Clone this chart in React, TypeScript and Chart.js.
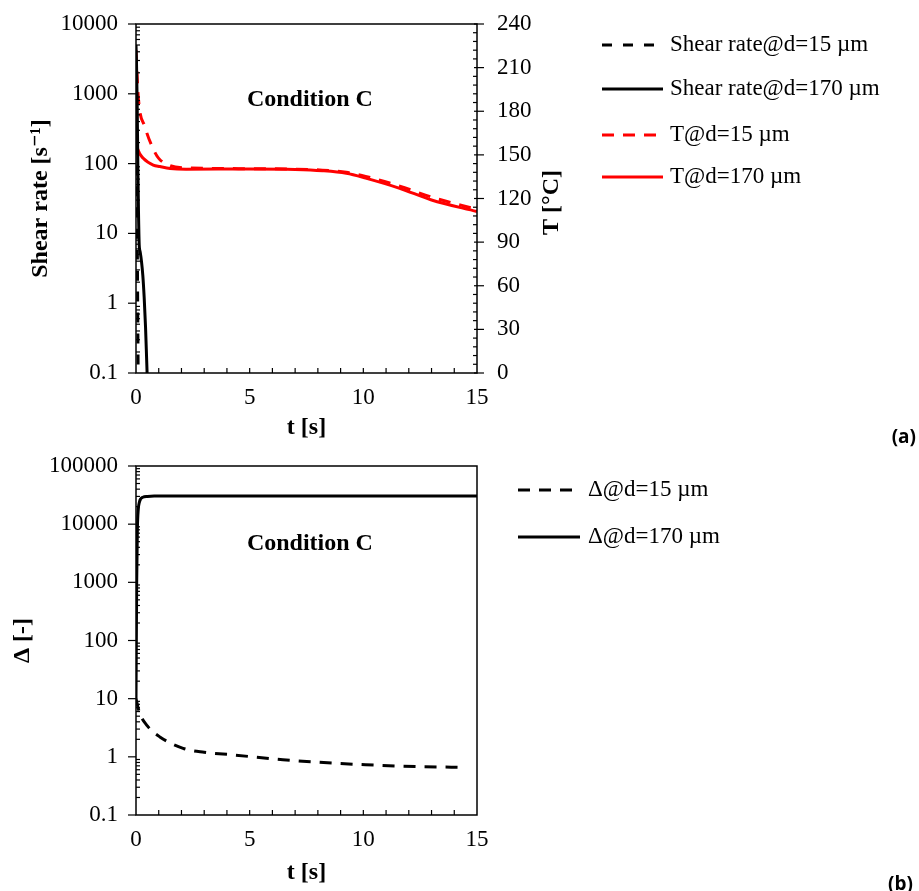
import React, { useEffect, useRef } from "react";
import { Chart, registerables } from "chart.js";
Chart.register(...registerables);

const SERIF = "'Liberation Serif', 'DejaVu Serif', serif";
const RED = "rgb(255,0,0)";

// ---------- Chart (a) data ----------
const tShear15 = [0, 0.02, 0.04, 0.06, 0.08, 0.1];
const shear15 = [3000, 600, 60, 5, 0.5, 0.05];
const tShear170 = [0, 0.02, 0.05, 0.08, 0.11, 0.14, 0.18, 0.24, 0.3, 0.36, 0.42, 0.47, 0.52];
const shear170 = [5000, 3000, 800, 100, 20, 7, 5.5, 4, 2.5, 1.2, 0.45, 0.15, 0.05];
const tT15 = [0, 0.1, 0.4, 0.76, 1.0, 1.5, 2.2, 5, 8.2, 9.25, 10.1, 11.6, 13, 15];
const T15 = [222, 190, 169, 154, 147.6, 142.6, 141, 140.5, 139.5, 138, 135.2, 128.5, 121, 112.5];
const tT170 = [0, 0.02, 0.1, 0.32, 0.76, 1.05, 1.5, 2.2, 5, 7, 8.2, 9.25, 10.1, 11.6, 13, 15];
const T170 = [184, 163, 153, 147.6, 143, 142, 140.7, 140.2, 140.3, 140, 139.1, 137.3, 134, 127, 119, 111];
const shearTicks = [0.1, 1, 10, 100, 1000, 10000];
const shearTickLabels = ["0.1", "1", "10", "100", "1000", "10000"];
const tempTicks = [0, 30, 60, 90, 120, 150, 180, 210, 240];

// ---------- Chart (b) data ----------
const tDelta15 = [0, 0.15, 0.5, 1.05, 2.07, 3, 4.27, 6.46, 8.65, 10.1, 12.3, 14.5];
const delta15 = [10, 5.8, 3.4, 2.2, 1.4, 1.2, 1.08, 0.89, 0.78, 0.73, 0.68, 0.66];
const tDelta170 = [0, 0.03, 0.06, 0.1, 0.15, 0.2, 0.3, 0.5, 0.8, 1.5, 15];
const delta170 = [10, 1000, 8000, 18000, 24000, 27000, 29000, 30000, 30500, 30500, 30500];
const deltaTicks = [0.1, 1, 10, 100, 1000, 10000, 100000];
const deltaTickLabels = ["0.1", "1", "10", "100", "1000", "10000", "100000"];

const tTicks = [0, 5, 10, 15];

const pts = (xs: number[], ys: number[]) => xs.map((x, i) => ({ x, y: ys[i] }));

function makeAxesPlugin(opts: any) {
  return {
    id: "customAxes",
    afterDatasetsDraw(chart: any) {
      const { ctx, chartArea: a, scales } = chart;
      ctx.save();
      ctx.strokeStyle = "#000";
      ctx.lineWidth = 1.5;
      ctx.strokeRect(a.left, a.top, a.right - a.left, a.bottom - a.top);
      ctx.lineWidth = 1.2;
      // x ticks (inside, upward)
      const xs = scales.x;
      for (let t = 1; t < 15; t++) {
        const px = xs.getPixelForValue(t);
        ctx.beginPath();
        ctx.moveTo(px, a.bottom);
        ctx.lineTo(px, a.bottom - 5);
        ctx.stroke();
      }
      // left log axis
      const ys = scales.y;
      const dec: number[] = opts.logTicks;
      dec.forEach((v: number, i: number) => {
        const py = ys.getPixelForValue(v);
        ctx.beginPath();
        ctx.moveTo(a.left - 8, py);
        ctx.lineTo(a.left, py);
        ctx.stroke();
        if (i < dec.length - 1) {
          for (let k = 2; k <= 9; k++) {
            const my = ys.getPixelForValue(v * k);
            ctx.beginPath();
            ctx.moveTo(a.left, my);
            ctx.lineTo(a.left + 4, my);
            ctx.stroke();
          }
        }
      });
      // right linear axis
      if (scales.yT) {
        const yt = scales.yT;
        for (let v = 0; v <= 240; v += 6) {
          const py = yt.getPixelForValue(v);
          ctx.beginPath();
          if (v % 30 === 0) {
            ctx.moveTo(a.right - 3, py);
            ctx.lineTo(a.right + 7, py);
          } else {
            ctx.moveTo(a.right - 4, py);
            ctx.lineTo(a.right, py);
          }
          ctx.stroke();
        }
        // right title (reads bottom-to-top)
        ctx.save();
        ctx.translate(opts.rightTitleX, (a.top + a.bottom) / 2 + 4);
        ctx.rotate(-Math.PI / 2);
        ctx.font = `bold 24px ${SERIF}`;
        ctx.fillStyle = "#000";
        ctx.textAlign = "center";
        ctx.textBaseline = "middle";
        ctx.fillText("T [°C]", 0, 0);
        ctx.restore();
      }
      // annotation
      ctx.font = `bold 24px ${SERIF}`;
      ctx.fillStyle = "#000";
      ctx.textAlign = "center";
      ctx.textBaseline = "middle";
      ctx.fillText(
        "Condition C",
        a.left + 0.51 * (a.right - a.left),
        a.top + opts.annotY * (a.bottom - a.top)
      );
      // legend
      ctx.font = `23px ${SERIF}`;
      ctx.textAlign = "left";
      chart.data.datasets.forEach((ds: any, i: number) => {
        const y = opts.legendY[i];
        ctx.save();
        ctx.strokeStyle = ds.borderColor;
        ctx.lineWidth = 3;
        ctx.setLineDash(ds.borderDash || []);
        ctx.beginPath();
        ctx.moveTo(opts.legendX0, y);
        ctx.lineTo(opts.legendX1, y);
        ctx.stroke();
        ctx.restore();
        ctx.fillStyle = "#000";
        ctx.fillText(ds.label, opts.legendX1 + opts.legendGap, y);
      });
      ctx.restore();
    },
  };
}

const noGrid = { display: false, drawTicks: false };

function baseX(tickPad: number, titlePadBottom: number, height: number) {
  return {
    type: "linear",
    min: 0,
    max: 15,
    afterBuildTicks: (s: any) => {
      s.ticks = tTicks.map((v) => ({ value: v }));
    },
    afterFit: (s: any) => {
      s.height = height;
      s.paddingLeft = 0;
      s.paddingRight = 0;
    },
    grid: noGrid,
    border: { display: false },
    ticks: {
      color: "#000",
      padding: tickPad,
      maxRotation: 0,
      font: { family: SERIF, size: 23 },
      callback: (v: any) => String(v),
    },
    title: {
      display: true,
      text: "t [s]",
      color: "#000",
      font: { family: SERIF, size: 24, weight: "bold" },
      padding: { top: 0, bottom: titlePadBottom },
    },
  };
}

function ChartA() {
  const ref = useRef<HTMLCanvasElement>(null);
  useEffect(() => {
    const chart = new Chart(ref.current as HTMLCanvasElement, {
      type: "line",
      data: {
        datasets: [
          { label: "Shear rate@d=15 µm", data: pts(tShear15, shear15), borderColor: "#000", borderDash: [10, 11], borderWidth: 3, yAxisID: "y" },
          { label: "Shear rate@d=170 µm", data: pts(tShear170, shear170), borderColor: "#000", borderWidth: 3, yAxisID: "y" },
          { label: "T@d=15 µm", data: pts(tT15, T15), borderColor: RED, borderDash: [12, 9], borderWidth: 3, yAxisID: "yT" },
          { label: "T@d=170 µm", data: pts(tT170, T170), borderColor: RED, borderWidth: 3, yAxisID: "yT" },
        ],
      } as any,
      options: {
        responsive: false,
        animation: false,
        devicePixelRatio: 1,
        layout: { padding: { left: 0, top: 24, right: 342, bottom: 0 } },
        elements: { point: { radius: 0 }, line: { cubicInterpolationMode: "monotone", fill: false } },
        plugins: { legend: { display: false }, tooltip: { enabled: false } },
        scales: {
          x: baseX(11, 3, 72),
          y: {
            type: "logarithmic",
            position: "left",
            min: 0.1,
            max: 10000,
            afterBuildTicks: (s: any) => {
              s.ticks = shearTicks.map((v) => ({ value: v }));
            },
            afterFit: (s: any) => {
              s.width = 136;
              s.paddingTop = 0;
              s.paddingBottom = 0;
            },
            grid: noGrid,
            border: { display: false },
            ticks: {
              color: "#000",
              padding: 18,
              font: { family: SERIF, size: 23 },
              callback: (v: any) => {
                const i = shearTicks.indexOf(v);
                return i >= 0 ? shearTickLabels[i] : "";
              },
            },
            title: {
              display: true,
              text: "Shear rate [s⁻¹]",
              color: "#000",
              font: { family: SERIF, size: 24, weight: "bold" },
              padding: { top: 26, bottom: 0 },
            },
          },
          yT: {
            type: "linear",
            position: "right",
            min: 0,
            max: 240,
            afterBuildTicks: (s: any) => {
              s.ticks = tempTicks.map((v) => ({ value: v }));
            },
            afterFit: (s: any) => {
              s.width = 100;
              s.paddingTop = 0;
              s.paddingBottom = 0;
            },
            grid: noGrid,
            border: { display: false },
            ticks: {
              color: "#000",
              padding: 20,
              font: { family: SERIF, size: 23 },
              callback: (v: any) => String(v),
            },
          },
        },
      } as any,
      plugins: [
        makeAxesPlugin({
          logTicks: shearTicks,
          rightTitleX: 552,
          annotY: 0.218,
          legendY: [45, 89, 135, 177],
          legendX0: 602,
          legendX1: 663,
          legendGap: 7,
        }),
      ],
    });
    return () => chart.destroy();
  }, []);
  return <canvas ref={ref} width={919} height={445} style={{ width: 919, height: 445, display: "block" }} />;
}

function ChartB() {
  const ref = useRef<HTMLCanvasElement>(null);
  useEffect(() => {
    const chart = new Chart(ref.current as HTMLCanvasElement, {
      type: "line",
      data: {
        datasets: [
          { label: "Δ@d=15 µm", data: pts(tDelta15, delta15), borderColor: "#000", borderDash: [12, 9], borderWidth: 3, yAxisID: "y" },
          { label: "Δ@d=170 µm", data: pts(tDelta170, delta170), borderColor: "#000", borderWidth: 3, yAxisID: "y" },
        ],
      } as any,
      options: {
        responsive: false,
        animation: false,
        devicePixelRatio: 1,
        layout: { padding: { left: 0, top: 21, right: 442, bottom: 0 } },
        elements: { point: { radius: 0 }, line: { cubicInterpolationMode: "monotone", fill: false } },
        plugins: { legend: { display: false }, tooltip: { enabled: false } },
        scales: {
          x: baseX(11, 4, 76),
          y: {
            type: "logarithmic",
            position: "left",
            min: 0.1,
            max: 100000,
            afterBuildTicks: (s: any) => {
              s.ticks = deltaTicks.map((v) => ({ value: v }));
            },
            afterFit: (s: any) => {
              s.width = 136;
              s.paddingTop = 0;
              s.paddingBottom = 0;
            },
            grid: noGrid,
            border: { display: false },
            ticks: {
              color: "#000",
              padding: 18,
              font: { family: SERIF, size: 23 },
              callback: (v: any) => {
                const i = deltaTicks.indexOf(v);
                return i >= 0 ? deltaTickLabels[i] : "";
              },
            },
            title: {
              display: true,
              text: "Δ [-]",
              color: "#000",
              font: { family: SERIF, size: 24, weight: "bold" },
              padding: { top: 8, bottom: 0 },
            },
          },
        },
      } as any,
      plugins: [
        makeAxesPlugin({
          logTicks: deltaTicks,
          annotY: 0.223,
          legendY: [45, 92],
          legendX0: 518,
          legendX1: 580,
          legendGap: 8,
        }),
      ],
    });
    return () => chart.destroy();
  }, []);
  return <canvas ref={ref} width={919} height={446} style={{ width: 919, height: 446, display: "block" }} />;
}

export default function App() {
  const tag: React.CSSProperties = {
    position: "absolute",
    right: 3,
    fontFamily: "'Open Sans', 'Noto Sans', sans-serif",
    fontWeight: "bold",
    fontSize: 19,
    lineHeight: "22px",
    color: "#000",
  };
  return (
    <div style={{ position: "absolute", left: 0, top: 0, width: 919, height: 891, background: "#fff" }}>
      <div style={{ position: "absolute", left: 0, top: 0 }}>
        <ChartA />
      </div>
      <div style={{ position: "absolute", left: 0, top: 445 }}>
        <ChartB />
      </div>
      <div style={{ ...tag, top: 425 }}>(a)</div>
      <div style={{ ...tag, top: 872, right: 6 }}>(b)</div>
    </div>
  );
}
